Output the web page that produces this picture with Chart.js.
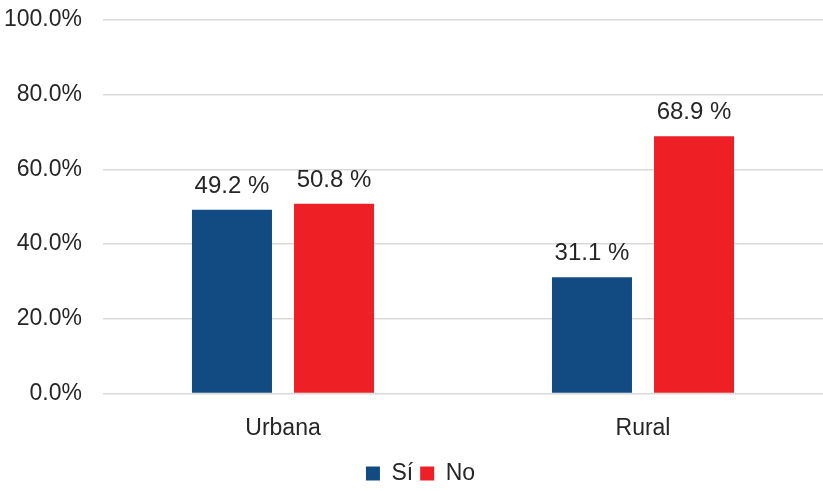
<!DOCTYPE html>
<html><head><meta charset="utf-8">
<script src="https://cdn.jsdelivr.net/npm/chart.js@4/dist/chart.umd.min.js"></script>
<style>html,body{margin:0;padding:0;background:#fff}#w{width:823px;height:491px}</style>
</head><body><div id="w"><canvas id="c"></canvas></div>
<script>
const categories = ["Urbana", "Rural"];
const seriesNames = ["Sí", "No"];
const siValues = [49.2, 31.1];
const noValues = [50.8, 68.9];
const yTicks = [0, 20, 40, 60, 80, 100];

const FONT = "'Liberation Sans', Arial, sans-serif";
const labelPlugin = {
  id: 'valLabels',
  afterLayout(chart) {
    if (chart.legend) { chart.legend.left += 16; }
  },
  afterDatasetsDraw(chart) {
    const ctx = chart.ctx;
    ctx.save();
    ctx.font = "24px " + FONT;
    ctx.fillStyle = "#262626";
    ctx.textAlign = "center";
    ctx.textBaseline = "alphabetic";
    chart.data.datasets.forEach((ds, i) => {
      chart.getDatasetMeta(i).data.forEach((bar, j) => {
        ctx.fillText(ds.data[j].toFixed(1) + " %", bar.x, bar.y - 17);
      });
    });
    ctx.restore();
  }
};

new Chart(document.getElementById('c'), {
  type: 'bar',
  data: {
    labels: categories,
    datasets: [
      { label: seriesNames[0], data: siValues, backgroundColor: '#124b81' },
      { label: seriesNames[1], data: noValues, backgroundColor: '#ee1f25' }
    ]
  },
  options: {
    responsive: true, maintainAspectRatio: false, animation: false,
    layout: { padding: { top: 0, right: 0, left: 2, bottom: -4 } },
    datasets: { bar: { categoryPercentage: 0.567, barPercentage: 0.784 } },
    plugins: {
      legend: {
        position: 'bottom',
        labels: { font: { family: FONT, size: 23 }, color: '#262626', boxWidth: 14, boxHeight: 14, padding: 7 }
      },
      tooltip: { enabled: false }
    },
    scales: {
      x: {
        grid: { display: false },
        border: { display: false },
        ticks: { font: { family: FONT, size: 23 }, color: '#262626', padding: 13 }
      },
      y: {
        min: 0, max: 100,
        afterBuildTicks: (axis) => { axis.ticks = yTicks.map(v => ({ value: v })); },
        afterFit: (axis) => { axis.width = 101; axis.paddingTop = 20; axis.paddingBottom = 0; },
        grid: { color: '#d9d9d9', lineWidth: 1.5, drawTicks: false },
        border: { display: false },
        ticks: { font: { family: FONT, size: 23 }, color: '#262626', padding: 21,
          callback: (v) => v.toFixed(1) + '%' }
      }
    }
  },
  plugins: [labelPlugin]
});
</script></body></html>
